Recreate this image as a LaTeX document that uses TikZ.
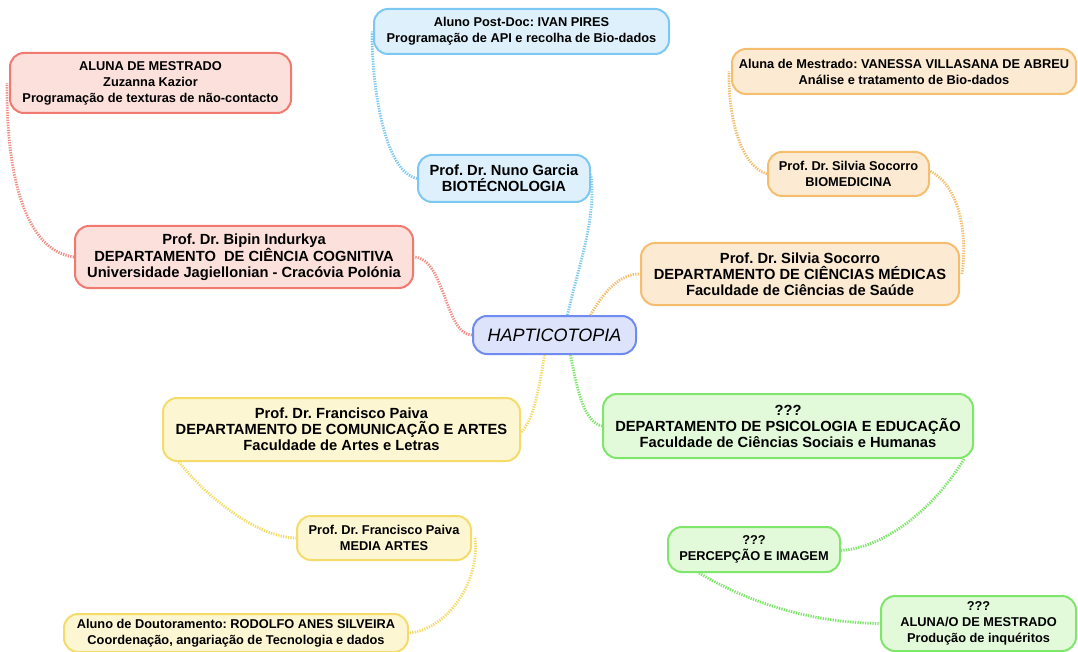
\documentclass[tikz,border=0pt]{standalone}
\usepackage{fontspec}
\setmainfont{Liberation Sans}
\frenchspacing
\definecolor{redB}{HTML}{F07A70}\definecolor{redF}{HTML}{FCE0DC}
\definecolor{bluB}{HTML}{7CC8F2}\definecolor{bluF}{HTML}{DDF0FB}
\definecolor{oraB}{HTML}{F5BE6E}\definecolor{oraF}{HTML}{FCEAD2}
\definecolor{yelB}{HTML}{F5DC6A}\definecolor{yelF}{HTML}{FDF6D2}
\definecolor{grnB}{HTML}{7EE66A}\definecolor{grnF}{HTML}{E2FADA}
\definecolor{cenB}{HTML}{6F8BEF}\definecolor{cenF}{HTML}{DDE3FA}
\begin{document}
\begin{tikzpicture}[x=1pt,y=-1pt,
  box/.style={rounded corners=14pt,line width=2pt,align=center,inner sep=0pt,font=\bfseries},
  big/.style={box,font=\fontsize{14.7}{16}\selectfont\bfseries},
  small/.style={box,font=\fontsize{12.8}{16}\selectfont\bfseries},
  rbox/.style={draw=redB,fill=redF},
  bbox/.style={draw=bluB,fill=bluF},
  obox/.style={draw=oraB,fill=oraF},
  ybox/.style={draw=yelB,fill=yelF},
  gbox/.style={draw=grnB,fill=grnF},
  wh/.style 2 args={minimum width=#1,minimum height=#2},
  link/.style={line width=2.8pt,dash pattern=on 1.3pt off 1.2pt},
]
\useasboundingbox (0,0) rectangle (1078,652);
\fill[white] (0,0) rectangle (1078,652);

\node[box,draw=cenB,fill=cenF,wh={163}{38},font=\fontsize{18}{20}\selectfont\itshape] (c) at (554.5,335) {HAPTICOTOPIA};

\node[small,bbox,wh={295}{45}] (ivan) at (521.5,31.5) {Aluno Post-Doc: IVAN PIRES\\Programação de API e recolha de Bio-dados};
\node[big,bbox,wh={172}{47}] (nuno) at (504,178.5) {Prof. Dr. Nuno Garcia\\BIOTÉCNOLOGIA};

\node[big,rbox,wh={338}{62}] (bipin) at (244,257) {Prof. Dr. Bipin Indurkya\\DEPARTAMENTO\ \ DE CIÊNCIA COGNITIVA\\Universidade Jagiellonian - Cracóvia Polónia};
\node[small,rbox,wh={281}{60}] (zuz) at (150.5,83) {ALUNA DE MESTRADO\\Zuzanna Kazior\\Programação de texturas de não-contacto};

\node[big,obox,wh={318}{62}] (sdept) at (800,274) {Prof. Dr. Silvia Socorro\\DEPARTAMENTO DE CIÊNCIAS MÉDICAS\\Faculdade de Ciências de Saúde};
\node[small,obox,wh={161}{44}] (sbio) at (848.5,174) {Prof. Dr. Silvia Socorro\\BIOMEDICINA};
\node[small,obox,wh={344}{45}] (van) at (904,71.5) {Aluna de Mestrado: VANESSA VILLASANA DE ABREU\\Análise e tratamento de Bio-dados};

\node[big,ybox,wh={357}{63}] (fdept) at (341.5,429.5) {Prof. Dr. Francisco Paiva\\DEPARTAMENTO DE COMUNICAÇÃO E ARTES\\Faculdade de Artes e Letras};
\node[small,ybox,wh={174}{44}] (fmed) at (384,538) {Prof. Dr. Francisco Paiva\\MEDIA ARTES};
\node[small,ybox,wh={344}{38}] (rod) at (236,633) {Aluno de Doutoramento: RODOLFO ANES SILVEIRA\\Coordenação, angariação de Tecnologia e dados};

\node[big,gbox,wh={370}{64}] (psi) at (788,426) {???\\DEPARTAMENTO DE PSICOLOGIA E EDUCAÇÃO\\Faculdade de Ciências Sociais e Humanas};
\node[small,gbox,wh={172}{45}] (perc) at (754,549.5) {???\\PERCEPÇÃO E IMAGEM};
\node[small,gbox,wh={195}{55}] (aluna) at (978.5,623.5) {???\\ALUNA/O DE MESTRADO\\Produção de inquéritos};

% connectors
\draw[link,draw=redB!85] (c.west) .. controls (445,335) and (445,258) .. (bipin.east);
\draw[link,draw=redB!85] (bipin.west) .. controls (20,250) and (6,160) .. ([xshift=-2pt]zuz.west);
\draw[link,draw=bluB] ([xshift=13pt]c.north) .. controls (580,260) and (596,220) .. ([yshift=4pt]nuno.east);
\draw[link,draw=bluB] (nuno.west) .. controls (385,172) and (372,90) .. ([xshift=-1pt]ivan.west);
\draw[link,draw=oraB] ([xshift=36pt]c.north) .. controls (605,290) and (620,274) .. (sdept.west);
\draw[link,draw=oraB] ([xshift=2pt]sdept.east) .. controls (968,230) and (958,185) .. ([yshift=3pt]sbio.east);
\draw[link,draw=oraB] (sbio.west) .. controls (738,165) and (728,110) .. ([xshift=-2pt]van.west);
\draw[link,draw=yelB] ([xshift=-10pt]c.south) .. controls (538,395) and (533,420) .. ([yshift=-3pt]fdept.east);
\draw[link,draw=yelB] ([xshift=17pt]fdept.south west) .. controls (205,495) and (255,537) .. (fmed.west);
\draw[link,draw=yelB] ([xshift=3pt]fmed.east) .. controls (480,585) and (445,630) .. (rod.east);
\draw[link,draw=grnB] ([xshift=16pt]c.south) .. controls (578,395) and (585,422) .. (psi.west);
\draw[link,draw=grnB] ([xshift=-10pt]psi.south east) .. controls (930,515) and (880,548) .. ([yshift=-1pt]perc.east);
\draw[link,draw=grnB] ([xshift=32pt]perc.south west) .. controls (765,612) and (830,623) .. (aluna.west);
\end{tikzpicture}
\end{document}
